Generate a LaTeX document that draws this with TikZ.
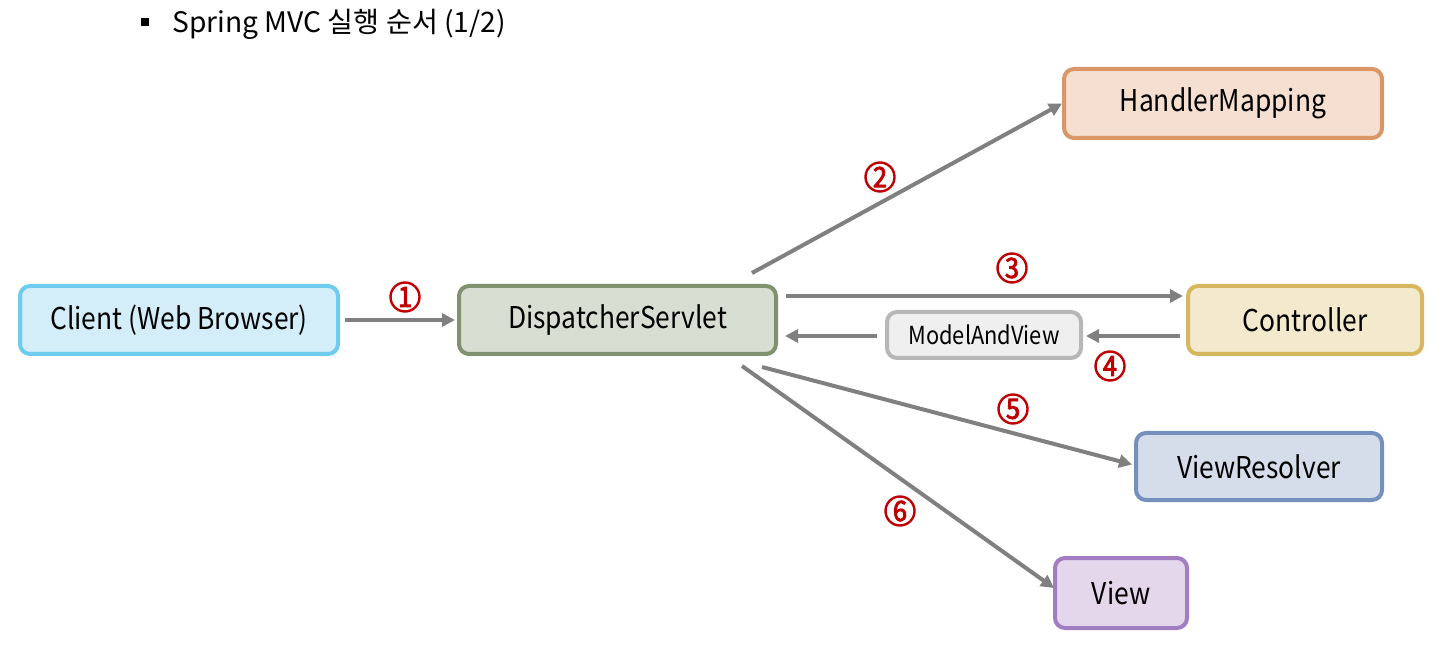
\documentclass[tikz,border=0pt]{standalone}
\usepackage{fontspec}
\setmainfont{Noto Sans CJK KR}
\newfontfamily\boxfont{Noto Sans CJK KR}[FakeStretch=0.88]
\newfontfamily\numfont{Noto Sans CJK KR}[FakeStretch=0.9,FakeBold=3]
\usetikzlibrary{calc,arrows.meta}
\definecolor{clientF}{RGB}{212,238,249}
\definecolor{clientD}{RGB}{110,204,238}
\definecolor{dsF}{RGB}{217,222,211}
\definecolor{dsD}{RGB}{127,146,112}
\definecolor{hmF}{RGB}{245,223,208}
\definecolor{hmD}{RGB}{218,150,103}
\definecolor{ctF}{RGB}{243,233,204}
\definecolor{ctD}{RGB}{214,183,93}
\definecolor{mvF}{RGB}{239,239,239}
\definecolor{mvD}{RGB}{183,183,183}
\definecolor{vrF}{RGB}{214,221,234}
\definecolor{vrD}{RGB}{117,144,188}
\definecolor{vwF}{RGB}{228,215,236}
\definecolor{vwD}{RGB}{162,125,194}
\definecolor{arrC}{RGB}{128,128,128}
\definecolor{numC}{RGB}{192,0,0}
\begin{document}
\begin{tikzpicture}[x=0.5pt,y=-0.5pt,
  box/.style={draw, line width=2pt, rounded corners=5pt, inner sep=0pt,
    font=\boxfont\fontsize{15}{17}\selectfont, text=black},
  arr/.style={draw=arrC, line width=2pt, -{Triangle[length=6.5pt,width=6.5pt]}},
  num/.style={circle, draw=numC, line width=1.2pt, text=numC, inner sep=0pt,
    minimum size=14.5pt, font=\numfont\fontsize{14}{15}\selectfont}]
\useasboundingbox (0,0) rectangle (1449,651);
% title
\node[fill=black, minimum size=4pt, inner sep=0pt] (bul) at (145,22) {};
\node[anchor=base west, inner sep=0pt, font=\fontsize{14.1}{17}\selectfont] (title) at (172,33) {Spring MVC 실행 순서 (1/2)};
% boxes
\node[box, fill=clientF, draw=clientD, minimum width=159pt, minimum height=34pt] (client) at (179,320) {Client (Web Browser)};
\node[box, fill=dsF, draw=dsD, minimum width=158.5pt, minimum height=34pt] (ds) at (617.5,320) {DispatcherServlet};
\node[box, fill=hmF, draw=hmD, minimum width=159pt, minimum height=34.5pt] (hm) at (1223,103.5) {HandlerMapping};
\node[box, fill=ctF, draw=ctD, minimum width=117pt, minimum height=34pt] (ctrl) at (1305,320) {Controller};
\node[box, fill=mvF, draw=mvD, minimum width=97pt, minimum height=23pt, font=\boxfont\fontsize{12.4}{14}\selectfont] (mav) at (984,335) {ModelAndView};
\node[box, fill=vrF, draw=vrD, minimum width=123pt, minimum height=33.5pt] (vr) at (1259,466.5) {ViewResolver};
\node[box, fill=vwF, draw=vwD, minimum width=66pt, minimum height=35pt] (view) at (1121,593) {View};
% arrows
\draw[arr] ($(client.east)+(5,0)$) -- ($(ds.west)+(-2,0)$);
\draw[arr] ($(ds.north east)+(-26,-11)$) -- ($(hm.west)+(0,0)$);
\draw[arr] ($(ds.east)+(8,-24)$) -- ($(ctrl.west)+(-3,-24)$);
\draw[arr] ($(ctrl.west)+(-6,16)$) -- ($(mav.east)+(3,1)$);
\draw[arr] ($(mav.west)+(-8,1)$) -- ($(ds.east)+(7,16)$);
\draw[arr] ($(ds.south east)+(-16,11)$) -- ($(vr.west)+(-2,-2)$);
\draw[arr] ($(ds.south east)+(-36,10)$) -- ($(view.west)+(1,-5)$);
% numbers
\node[num] (n1) at (405,297) {1};
\node[num] (n2) at (880,177) {2};
\node[num] (n3) at (1012,268) {3};
\node[num] (n4) at (1110,366) {4};
\node[num] (n5) at (1013,409) {5};
\node[num] (n6) at (900,511) {6};
\end{tikzpicture}
\end{document}
